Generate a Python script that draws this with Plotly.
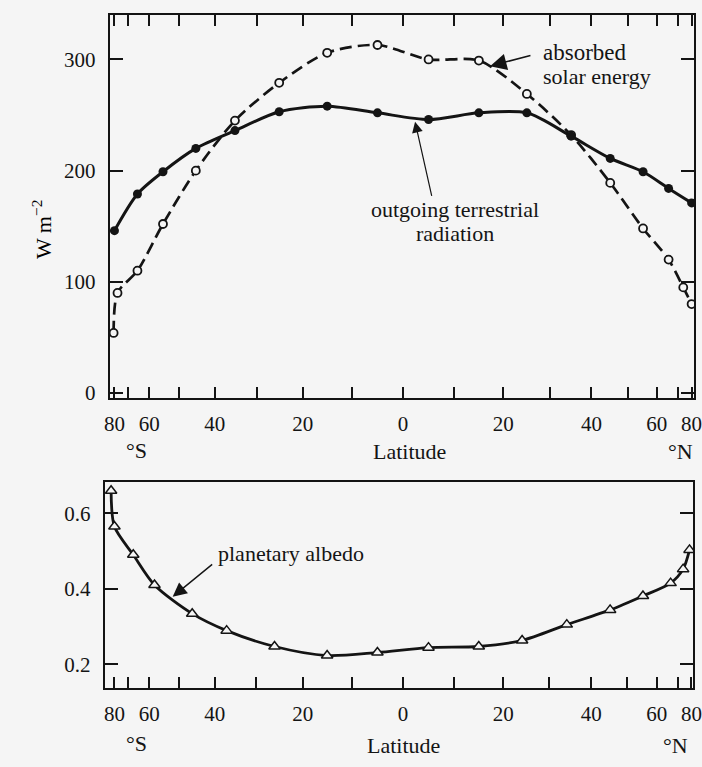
import numpy as np
import plotly.graph_objects as go

# ---------------- data ----------------
# outgoing terrestrial radiation (filled circles), W m-2
lat_out = [-80, -65, -55, -45, -35, -25, -15, -5, 5, 15, 25, 35, 45, 55, 65, 80]
val_out = [146, 179, 199, 220, 236, 253, 258, 252, 246, 252, 252, 231, 211, 199, 184, 171]

# absorbed solar energy (open circles), W m-2
lat_abs = [-81, -77, -65, -55, -45, -35, -25, -15, -5, 5, 15, 25, 35, 45, 55, 65, 73, 80]
val_abs = [54, 90, 110, 152, 200, 245, 279, 306, 313, 300, 299, 269, 232, 189, 148, 120, 95, 80]

# planetary albedo (open triangles)
lat_alb = [-85, -80, -67, -58, -46, -37, -26, -15, -5, 5, 15, 24, 34, 45, 55, 66, 73, 78]
val_alb = [0.66, 0.565, 0.49, 0.41, 0.334, 0.289, 0.247, 0.223, 0.231, 0.244, 0.247,
           0.263, 0.305, 0.344, 0.381, 0.415, 0.452, 0.503]

tick_lats = [-80, -70, -60, -50, -40, -30, -20, -10, 0, 10, 20, 30, 40, 50, 60, 70, 80]
tick_text = ["80", "", "60", "", "40", "", "20", "", "0", "", "20", "", "40", "", "60", "", "80"]
y1_ticks = [0, 100, 200, 300]
y2_ticks = [0.2, 0.4, 0.6]

# ---------------- styling ----------------
W, H = 702, 767
BG = "#f5f5f5"
INK = "#141414"
FONT = "Liberation Serif"


def sx(lats):
    # area-weighted latitude axis: position = sin(latitude)
    return np.sin(np.radians(np.asarray(lats, dtype=float)))


def px(x):
    return x / W


def py(y):
    return 1 - y / H


fig = go.Figure()

fig.add_trace(go.Scatter(
    x=sx(lat_abs), y=val_abs, mode="lines+markers", xaxis="x", yaxis="y",
    line=dict(color=INK, width=2.7, dash="12px,6px", shape="spline", smoothing=0.8),
    marker=dict(symbol="circle", size=8, color=BG, line=dict(color=INK, width=1.8)),
    showlegend=False))

fig.add_trace(go.Scatter(
    x=sx(lat_out), y=val_out, mode="lines+markers", xaxis="x", yaxis="y",
    line=dict(color=INK, width=3.0, shape="spline", smoothing=0.8),
    marker=dict(symbol="circle", size=9, color=INK),
    showlegend=False))

fig.add_trace(go.Scatter(
    x=sx(lat_alb), y=val_alb, mode="lines+markers", xaxis="x2", yaxis="y2",
    line=dict(color=INK, width=2.8, shape="spline", smoothing=0.8),
    marker=dict(symbol="triangle-up", size=10, color=BG, line=dict(color=INK, width=1.5)),
    showlegend=False))

xcommon = dict(
    tickmode="array", tickvals=sx(tick_lats), ticktext=tick_text,
    ticks="inside", ticklen=11, tickwidth=1.6, tickcolor=INK,
    showline=True, linecolor=INK, linewidth=2.4, showgrid=False, zeroline=False,
    tickfont=dict(family=FONT, size=21, color=INK), ticklabelstandoff=6,
    ticklabeloverflow="allow", automargin=False, fixedrange=True)
ycommon = dict(
    tickmode="array", ticks="inside", ticklen=13, tickwidth=1.6, tickcolor=INK,
    showline=True, linecolor=INK, linewidth=2.4, showgrid=False, zeroline=False,
    tickfont=dict(family=FONT, size=21, color=INK), ticklabelstandoff=8,
    ticklabeloverflow="allow", mirror="ticks", automargin=False, fixedrange=True)

fig.update_layout(
    width=W, height=H, margin=dict(l=0, r=0, t=0, b=0),
    paper_bgcolor=BG, plot_bgcolor=BG,
    font=dict(family=FONT, size=21, color=INK),
    xaxis=dict(**xcommon, domain=[px(110), px(694)], range=[-1.0, 0.993],
               anchor="y", mirror="ticks"),
    yaxis=dict(**ycommon, domain=[py(398), py(15)], range=[-4.5, 340],
               tickvals=y1_ticks, ticktext=[str(v) for v in y1_ticks], anchor="x"),
    xaxis2=dict(**xcommon, domain=[px(105), px(693)], range=[-1.017, 0.99],
                anchor="y2", mirror=True),
    yaxis2=dict(**ycommon, domain=[py(688), py(482)], range=[0.137, 0.683],
                tickvals=y2_ticks, ticktext=[f"{v:.1f}" for v in y2_ticks], anchor="x2"),
)

ann = []
tf = dict(family=FONT, size=22, color=INK)


def label(x, y, text, **kw):
    d = dict(x=px(x), y=py(y), xref="paper", yref="paper", text=text, showarrow=False,
             font=tf, xanchor="center", yanchor="middle", borderpad=0)
    d.update(kw)
    ann.append(d)


# axis captions
label(136, 450, "°S")
label(409, 452, "Latitude")
label(680, 452, "°N")
label(136, 743, "°S")
label(403, 745, "Latitude")
label(675, 745, "°N")
label(42, 230, "W m<sup>−2</sup>", textangle=-90, font=dict(family=FONT, size=22, color="#000000"))

# curve labels (one annotation per printed line to keep the tight line spacing)
label(542, 52, "absorbed", xanchor="left", font=dict(family=FONT, size=23, color=INK))
label(542, 76, "solar energy", xanchor="left")
label(455, 209, "outgoing terrestrial")
label(455, 233, "radiation")
label(217, 553, "planetary albedo", xanchor="left")

# arrows
ann.append(dict(x=0.297, y=294, xref="x", yref="y", ax=0.44, ay=304, axref="x", ayref="y",
                text="", showarrow=True, arrowhead=2, arrowsize=2.2, arrowwidth=1.5,
                arrowcolor=INK))
ann.append(dict(x=0.041, y=244, xref="x", yref="y", ax=0.099, ay=176, axref="x", ayref="y",
                text="", showarrow=True, arrowhead=2, arrowsize=1.8, arrowwidth=1.2,
                arrowcolor=INK))
ann.append(dict(x=-0.786, y=0.379, xref="x2", yref="y2", ax=-0.646, ay=0.468,
                axref="x2", ayref="y2", text="", showarrow=True, arrowhead=2,
                arrowsize=2.0, arrowwidth=1.4, arrowcolor=INK))

fig.update_layout(annotations=ann)

fig.write_html("out.html")
